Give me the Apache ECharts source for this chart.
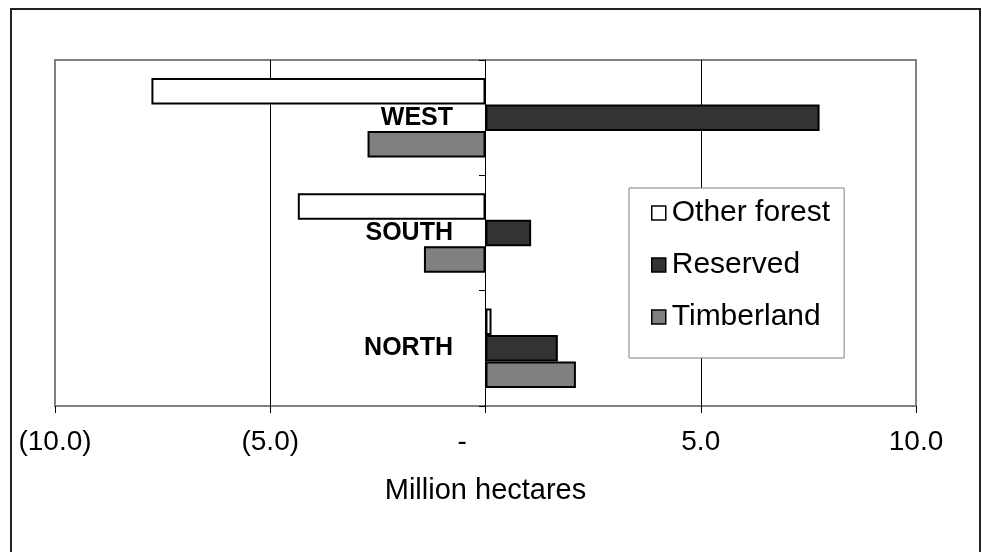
<!DOCTYPE html>
<html>
<head>
<meta charset="utf-8">
<script src="https://cdn.jsdelivr.net/npm/echarts@6/dist/echarts.min.js"></script>
<style>
  html, body { margin: 0; padding: 0; background: #fff; }
  #chart { width: 982px; height: 552px; }
</style>
</head>
<body>
<div id="chart"></div>
<script>
// regions, bottom to top
const regions = ['NORTH', 'SOUTH', 'WEST'];
// million hectares
const otherForest = [0.14, -4.36, -7.76];
const reserved = [1.68, 1.06, 7.76];
const timberland = [2.10, -1.43, -2.74];
const tickValues = [-10, -5, 0, 5, 10];
const tickLabels = ['(10.0)', '(5.0)', '-', '5.0', '10.0'];

const font = 'Arial, "Liberation Sans", sans-serif';
const barBorder = { borderColor: '#000', borderWidth: 2 };

const chart = echarts.init(document.getElementById('chart'));
chart.setOption({
  animation: false,
  backgroundColor: '#fff',
  graphic: [{
    type: 'rect',
    shape: { x: 11, y: 9, width: 969, height: 560 },
    style: { fill: null, stroke: '#222', lineWidth: 2 },
    silent: true
  }],
  grid: {
    left: 55, right: 66, top: 60, bottom: 146,
    containLabel: false,
    outerBoundsMode: 'none',
    show: true, borderColor: '#808080', borderWidth: 2
  },
  legend: {
    orient: 'vertical',
    left: 629, top: 188,
    data: ['Other forest', 'Reserved', 'Timberland'],
    backgroundColor: '#fff',
    borderColor: '#808080',
    borderWidth: 1,
    padding: [10, 14, 26, 22],
    itemGap: 22,
    itemWidth: 14, itemHeight: 14,
    icon: 'rect',
    itemStyle: { borderColor: '#000', borderWidth: 1.5 },
    textStyle: { fontFamily: font, fontSize: 30, color: '#000', lineHeight: 30, padding: [0, 0, 0, 1] }
  },
  xAxis: {
    type: 'value',
    min: -10, max: 10, interval: 5,
    name: 'Million hectares',
    nameLocation: 'middle',
    nameGap: 70,
    nameTextStyle: { fontFamily: font, fontSize: 29, color: '#000' },
    axisLine: { onZero: false, lineStyle: { color: '#222', width: 2 } },
    axisTick: { show: true, length: 7, lineStyle: { color: '#000', width: 1 } },
    axisLabel: {
      fontFamily: font, fontSize: 28, color: '#000', margin: 22,
      formatter: function (v) {
        const lab = tickLabels[tickValues.indexOf(v)];
        return lab === '-' ? lab + '      ' : lab;
      }
    },
    splitLine: { show: true, showMinLine: false, showMaxLine: false, lineStyle: { color: '#000', width: 1 } }
  },
  yAxis: {
    type: 'category',
    data: regions,
    z: 10,
    // sits on the zero line of the value axis (grid left 55, zero at 485)
    offset: -430,
    axisLine: { onZero: false, lineStyle: { color: '#000', width: 1 } },
    axisTick: { show: true, length: 6, lineStyle: { color: '#000' } },
    axisLabel: { fontFamily: font, fontSize: 25, fontWeight: 'bold', color: '#000', margin: 32 },
    splitLine: { show: false }
  },
  series: [
    { name: 'Other forest', type: 'bar', data: otherForest, barGap: 0, barCategoryGap: '31%',
      itemStyle: Object.assign({ color: '#fff' }, barBorder) },
    { name: 'Reserved', type: 'bar', data: reserved,
      itemStyle: Object.assign({ color: '#333333' }, barBorder) },
    { name: 'Timberland', type: 'bar', data: timberland,
      itemStyle: Object.assign({ color: '#808080' }, barBorder) }
  ]
});
</script>
</body>
</html>
